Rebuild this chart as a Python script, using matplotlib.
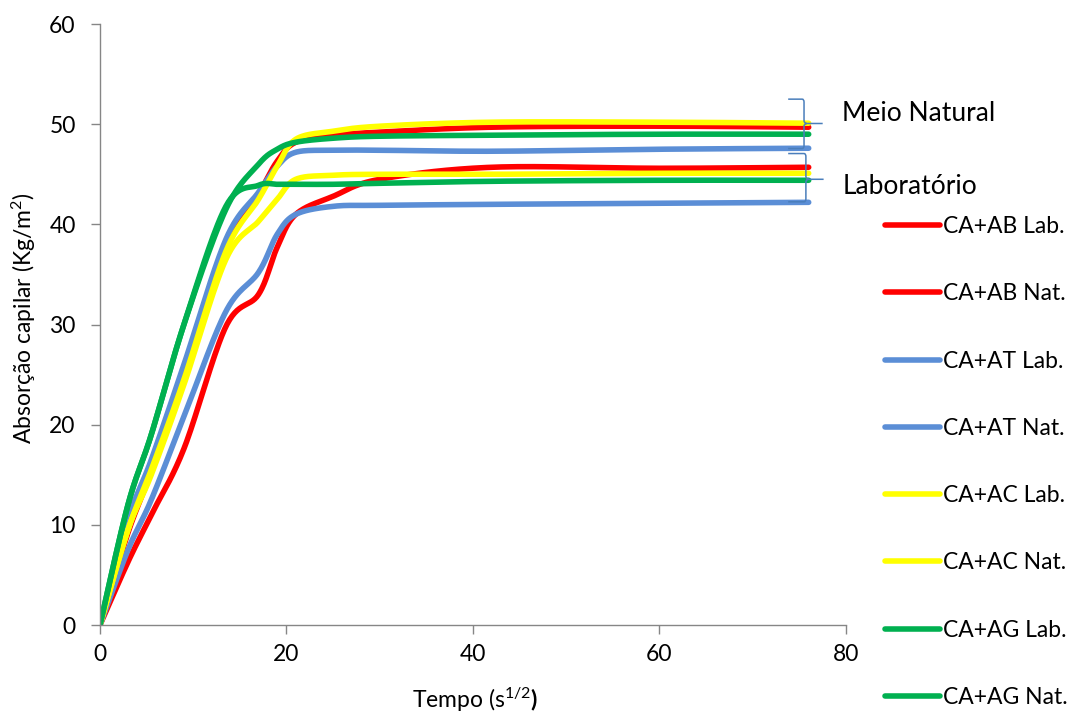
import matplotlib
matplotlib.use("Agg")
import matplotlib.pyplot as plt
import numpy as np
from matplotlib.path import Path
from matplotlib.patches import PathPatch

plt.rcParams['font.family'] = ['Lato', 'DejaVu Sans']
plt.rcParams['mathtext.fontset'] = 'custom'
plt.rcParams['mathtext.rm'] = 'Lato'
plt.rcParams['mathtext.it'] = 'Lato'
plt.rcParams['mathtext.bf'] = 'Lato:bold'

# tempo (s^1/2)
tempo = [0, 3, 5.5, 9, 13.5, 17, 19, 21, 25, 30, 42, 60, 76]

ab_lab = [0, 6.3, 11.0, 17.6, 29.8, 33.0, 37.7, 41.0, 42.8, 44.5, 45.7, 45.6, 45.7]
ab_nat = [0, 9.2, 15.3, 24.5, 37.5, 43.0, 46.3, 48.2, 48.9, 49.2, 49.7, 49.8, 49.7]
at_lab = [0, 7.5, 12.5, 20.8, 31.3, 35.2, 39.0, 41.0, 41.8, 41.9, 42.0, 42.1, 42.2]
at_nat = [0, 10.5, 16.5, 26.0, 38.5, 43.2, 45.8, 47.2, 47.4, 47.4, 47.3, 47.5, 47.6]
ac_lab = [0, 9.5, 15.0, 24.0, 36.5, 40.3, 42.5, 44.5, 44.9, 45.0, 45.0, 45.1, 45.1]
ac_nat = [0, 9.5, 15.5, 24.5, 37.3, 42.5, 45.8, 48.5, 49.3, 49.8, 50.2, 50.2, 50.1]
ag_lab = [0, 12.0, 19.0, 30.0, 41.8, 43.9, 44.0, 44.0, 44.0, 44.1, 44.3, 44.4, 44.4]
ag_nat = [0, 12.0, 19.0, 30.0, 41.5, 46.0, 47.5, 48.2, 48.6, 48.8, 48.9, 49.0, 49.0]

labels = ["CA+AB Lab.", "CA+AB Nat.", "CA+AT Lab.", "CA+AT Nat.",
          "CA+AC Lab.", "CA+AC Nat.", "CA+AG Lab.", "CA+AG Nat."]
series = [ab_lab, ab_nat, at_lab, at_nat, ac_lab, ac_nat, ag_lab, ag_nat]
colors = ["#FF0000", "#FF0000", "#5B8ED6", "#5B8ED6",
          "#FFFF00", "#FFFF00", "#00B050", "#00B050"]


def smooth(x, y, n=30):
    # excel-like smoothed line (catmull-rom through the points)
    p = np.column_stack([x, y]).astype(float)
    p = np.vstack([p[0], p, p[-1]])
    out = []
    t = np.linspace(0, 1, n)[:, None]
    for i in range(1, len(p) - 2):
        p0, p1, p2, p3 = p[i - 1], p[i], p[i + 1], p[i + 2]
        c1 = p1 + (p2 - p0) / 6
        c2 = p2 - (p3 - p1) / 6
        seg = ((1 - t) ** 3) * p1 + 3 * ((1 - t) ** 2) * t * c1 + 3 * (1 - t) * t ** 2 * c2 + t ** 3 * p2
        out.append(seg if i == 1 else seg[1:])
    out = np.vstack(out)
    return out[:, 0], out[:, 1]


fig = plt.figure(figsize=(10.74, 7.13), dpi=100)
ax = fig.add_axes([0.0931, 0.1234, 0.6946, 0.8429])

for ys, c, lab in zip(series, colors, labels):
    sx, sy = smooth(tempo, ys)
    ax.plot(sx, sy, color=c, lw=4, label=lab, solid_capstyle='round')

ax.set_xlim(0, 80)
ax.set_ylim(0, 60)
ax.set_xticks([0, 20, 40, 60, 80])
ax.set_yticks([0, 10, 20, 30, 40, 50, 60])
for s in ['top', 'right']:
    ax.spines[s].set_visible(False)
for s in ['left', 'bottom']:
    ax.spines[s].set_color('#868686')
    ax.spines[s].set_linewidth(1.0)
ax.tick_params(axis='both', colors='#868686', length=6.5, width=1.0, labelsize=16.5, labelcolor='black')
ax.tick_params(axis='y', pad=11)
ax.tick_params(axis='x', pad=7)

ax.set_ylabel("Absorção capilar (Kg/m$^2$)", fontsize=16.5, va='center')
ax.set_xlabel(r"Tempo (s$^{1/2}$$\mathbf{)}$", fontsize=16.5, va='center')
ax.yaxis.set_label_coords(-0.102, 0.51)
ax.xaxis.set_label_coords(0.503, -0.125)


def brace(x0, x1, xtip, ytop, ymid, ybot):
    d = 0.3
    verts = [(x0, ytop), (x1 - 0.2, ytop), (x1, ytop), (x1, ytop - d),
             (x1, ymid + d), (x1, ymid), (x1 + 0.3, ymid), (xtip, ymid),
             (x1 + 0.3, ymid), (x1, ymid), (x1, ymid - d),
             (x1, ybot + d), (x1, ybot), (x1 - 0.2, ybot), (x0, ybot)]
    codes = [Path.MOVETO, Path.LINETO, Path.CURVE3, Path.CURVE3,
             Path.LINETO, Path.CURVE3, Path.CURVE3, Path.LINETO,
             Path.MOVETO, Path.CURVE3, Path.CURVE3,
             Path.LINETO, Path.CURVE3, Path.CURVE3, Path.LINETO]
    ax.add_patch(PathPatch(Path(verts, codes), fill=False, edgecolor='#4A7EBB',
                           lw=1.1, clip_on=False, zorder=5))


brace(73.8, 75.5, 77.5, 52.5, 50.07, 47.57)
brace(73.8, 75.7, 77.6, 47.07, 44.5, 42.25)

ax.text(79.6, 51.1, "Meio Natural", fontsize=19, va='center', ha='left')
ax.text(79.6, 43.8, "Laboratório", fontsize=19, va='center', ha='left')

ax.legend(loc='upper left', bbox_to_anchor=(0.824, 0.697), bbox_transform=fig.transFigure,
          frameon=False, fontsize=16.5, handlelength=2.4, handletextpad=0.15,
          labelspacing=2.02, borderpad=0, borderaxespad=0)

fig.savefig("out.png", dpi=100)
